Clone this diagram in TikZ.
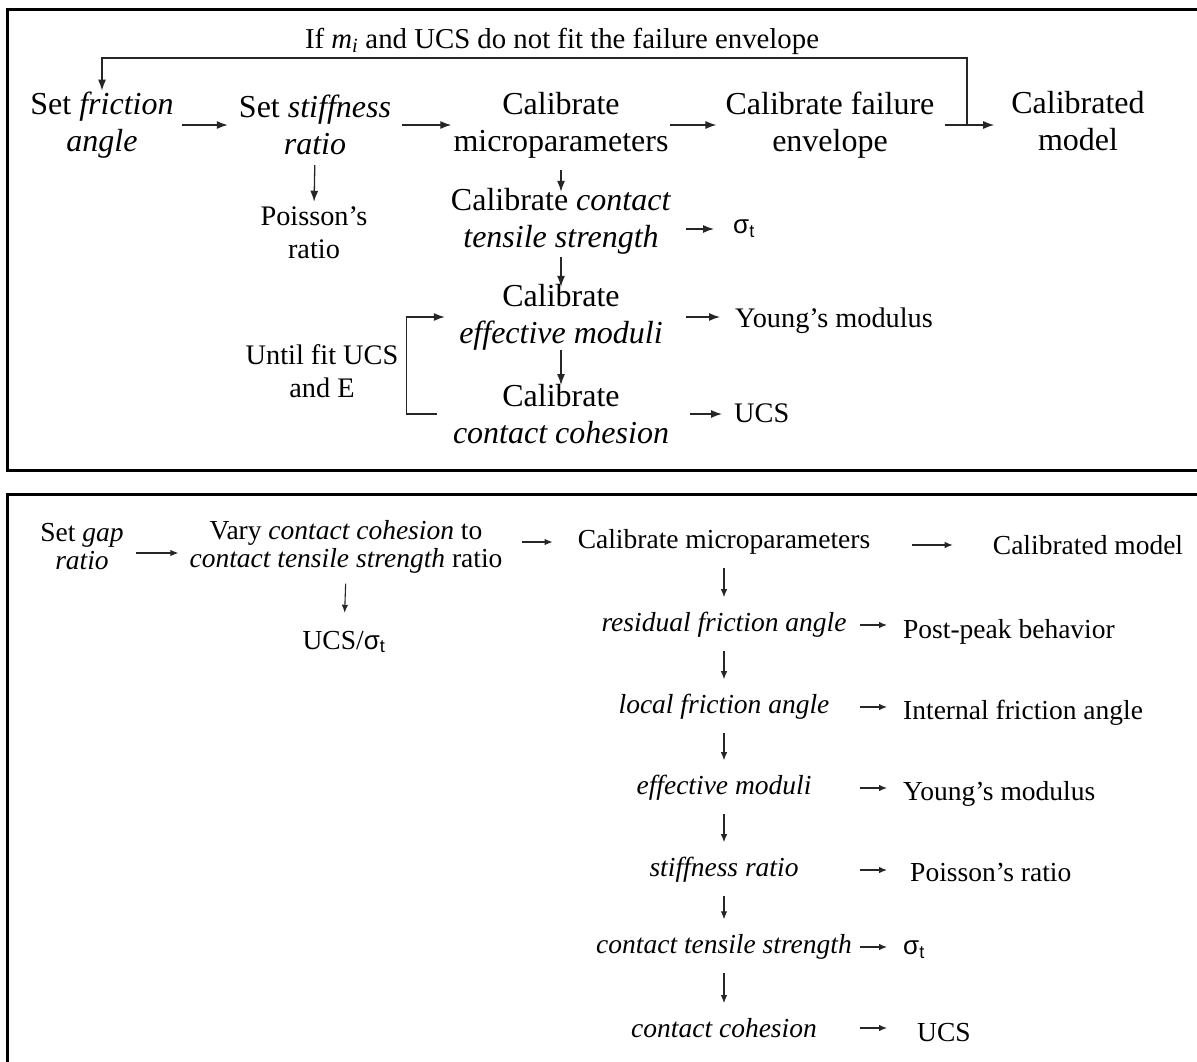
\documentclass[tikz,border=0pt]{standalone}
\usepackage{fontspec}
\setmainfont{Liberation Serif}
\newfontfamily\sigmafont{Liberation Sans}
\usetikzlibrary{arrows.meta,positioning}

\newcommand{\sigt}{{\sigmafont\fontsize{26}{26}\selectfont σ\textsubscript{t}}}

\tikzset{
  panel/.style={line width=3pt},
  toptext/.style={align=center, inner sep=0pt, font=\fontsize{32}{37}\selectfont},
  titletext/.style={inner sep=0pt, font=\fontsize{28.8}{33}\selectfont},
  sidetext/.style={align=center, inner sep=0pt, font=\fontsize{28.3}{33}\selectfont},
  colbox/.style={minimum width=232pt},
  lowtext/.style={align=center, inner sep=0pt, font=\fontsize{27.5}{28}\selectfont},
  lowcol/.style={lowtext, minimum width=262pt, font=\fontsize{27.5}{28}\selectfont\itshape},
  lowout/.style={lowtext, anchor=west, inner xsep=8pt},
  arr/.style={-{Latex[length=11pt,width=8pt]}, line width=1.3pt, black!85},
  arrs/.style={-{Latex[length=8pt,width=6.5pt]}, line width=1.1pt, black!85},
}

\begin{document}
\begin{tikzpicture}[x=1pt, y=-1pt]
  \useasboundingbox (0,0) rectangle (1197,1061);
  \fill[white] (0,0) rectangle (1197,1061);
  \clip (0,0) rectangle (1197,1061);

  % upper panel
  \draw[panel] (1215,9) -- (7,9) -- (7,470) -- (1215,470);
  \node[titletext] (cond) at (562,41) {If \textit{m}\textsubscript{\textit{i}} and UCS do not fit the failure envelope};
  \node[toptext] (fric) at (102,125) {Set \textit{friction}\\\textit{angle}};
  \node[toptext] (stiff) at (315,125) {Set \textit{stiffness}\\\textit{ratio}};
  \node[toptext] (micro) at (561,125) {Calibrate\\microparameters};
  \node[toptext] (fail) at (830,125) {Calibrate failure\\envelope};
  \node[toptext] (calib) at (1078,121) {Calibrated\\model};
  \node[sidetext] (poiss) at (314,233) {Poisson’s\\ratio};
  \node[toptext, colbox] (tens) at (561,221) {Calibrate \textit{contact}\\\textit{tensile strength}};
  \node[toptext, colbox] (eff) at (561,317) {Calibrate\\\textit{effective moduli}};
  \node[toptext, colbox] (coh) at (561,414) {Calibrate\\\textit{contact cohesion}};
  \node[sidetext] (until) at (322,371) {Until fit UCS\\and E};
  \node[sidetext, anchor=west] (sig1) at (733,229) {\sigt};
  \node[sidetext, anchor=west] (young1) at (735,321) {Young’s modulus};
  \node[sidetext, anchor=west] (ucs1) at (734,413) {UCS};

  \draw[arr, shorten <=8pt, shorten >=11pt] (fric.east) -- (fric.east -| stiff.west);
  \draw[arr, shorten <=11pt, shorten >=2pt] (stiff.east) -- (stiff.east -| micro.west);
  \draw[arr, shorten <=1pt, shorten >=9pt] (micro.east) -- (micro.east -| fail.west);
  \draw[arr, shorten <=10pt, shorten >=17pt] (fail.east) -- (fail.east -| calib.west);
  \coordinate (turn) at (967,125);
  \coordinate (back) at (102,58);
  \draw[arr, shorten >=1pt] (turn) |- (back) -- (fric.north);

  \draw[arr, shorten <=10pt, shorten >=5pt] (stiff.south) -- (poiss.north);
  \draw[arr, shorten <=12pt, shorten >=-4pt] (micro.south) -- (tens.north);
  \draw[arr, shorten <=3pt, shorten >=-3pt] (tens.south) -- (eff.north);
  \draw[arr, shorten <=0pt, shorten >=-1pt] (eff.south) -- (coh.north);
  \draw[arr, shorten <=8pt] (coh.west) -- ++(-38,0) |- (eff.west);

  \draw[arr, shorten <=9pt, shorten >=19pt] (tens.east |- sig1.west) -- (sig1.west);
  \draw[arr, shorten <=9pt, shorten >=15pt] (eff.east) -- (eff.east -| young1.west);
  \draw[arr, shorten <=13pt, shorten >=12pt] (coh.east) -- (coh.east -| ucs1.west);

  % lower panel
  \draw[panel] (1215,494) -- (7,494) -- (7,1080);
  \node[lowtext] (gap) at (82,547) {Set \textit{gap}\\\textit{ratio}};
  \node[lowtext] (vary) at (346,547) {Vary \textit{contact cohesion} to\\\textit{contact tensile strength} ratio};
  \node[lowtext] (micro2) at (724,542) {Calibrate microparameters};
  \node[lowtext] (calib2) at (1088,545) {Calibrated model};
  \node[lowtext] (ratio2) at (344,642) {UCS/\sigt};

  \node[lowcol] (res) at (724,625) {residual friction angle};
  \node[lowcol] (loc) at (724,707) {local friction angle};
  \node[lowcol] (eff2) at (724,788) {effective moduli};
  \node[lowcol] (stiff2) at (724,870) {stiffness ratio};
  \node[lowcol] (tens2) at (724,947) {contact tensile strength};
  \node[lowcol] (coh2) at (724,1028) {contact cohesion};

  \node[lowout] (post) at (895,632) {Post-peak behavior};
  \node[lowout] (intl) at (895,713) {Internal friction angle};
  \node[lowout] (young2) at (895,794) {Young’s modulus};
  \node[lowout, inner xsep=15pt] (poiss2) at (895,872) {Poisson’s ratio};
  \node[lowout] (sig2) at (895,950) {\sigt};
  \node[lowout, inner xsep=22pt] (ucs2) at (895,1033) {UCS};

  \draw[arrs, shorten <=12pt, shorten >=11pt] ([yshift=-6pt]gap.east) -- ([yshift=-6pt]gap.east -| vary.west);
  \draw[arrs, shorten <=19pt, shorten >=25pt] (vary.east |- micro2.west) -- (micro2.west);
  \draw[arrs, shorten <=42pt, shorten >=40pt] (micro2.east |- calib2.west) -- (calib2.west);
  \draw[arrs, shorten <=10pt, shorten >=18pt] (vary.south) -- (ratio2.north);

  \foreach \a/\b in {micro2/res, res/loc, loc/eff2, eff2/stiff2, stiff2/tens2, tens2/coh2}
    \draw[arrs, shorten <=13pt, shorten >=15pt] (\a) -- (\b);
  \foreach \a/\b in {res/post, loc/intl, eff2/young2, stiff2/poiss2, tens2/sig2, coh2/ucs2}
    \draw[arrs, shorten <=5pt, shorten >=8pt] (\a.east) -- (\a.east -| \b.west);
\end{tikzpicture}
\end{document}
